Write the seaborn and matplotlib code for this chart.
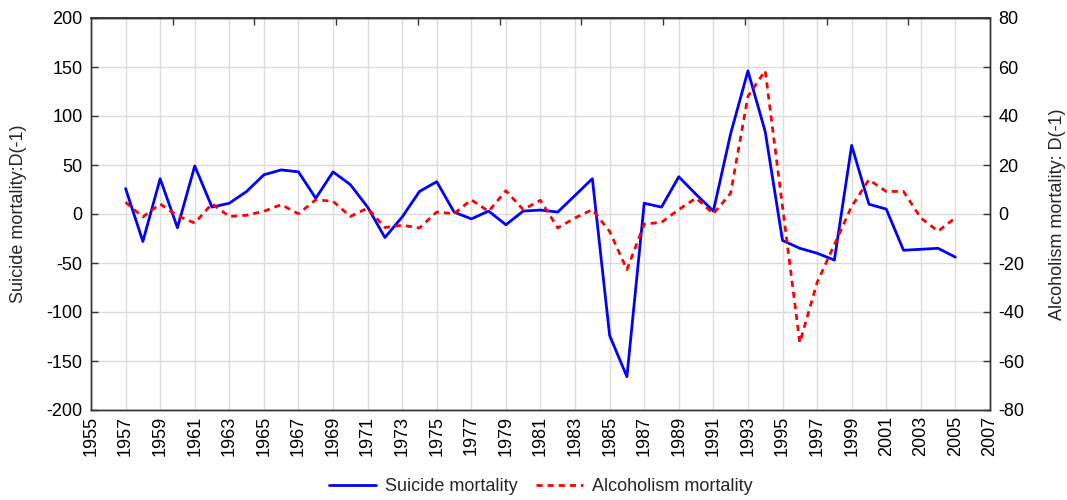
import numpy as np
import pandas as pd
import matplotlib
matplotlib.use("Agg")
import matplotlib.pyplot as plt
import seaborn as sns

years = list(range(1957, 2006))

suicide = [26, -28, 36, -14, 49, 7, 11, 23, 40, 45,
           43, 16, 43, 30, 7, -24, -3, 23, 33, 2,
           -5, 3, -11, 3, 4, 2, 19, 36, -124, -166,
           11, 7, 38, 20, 3, 82, 146, 84, -27, -35,
           -40, -47, 70, 10, 5, -37, -36, -35, -44]

alcohol = [4.8, -1.2, 4.1, -0.7, -3.7, 4.2, -1.0, -0.5, 1.1, 3.8,
           0.1, 5.8, 5.2, -1.0, 2.4, -5.5, -4.6, -5.7, 0.8, 0.1,
           5.8, 1.1, 9.5, 1.8, 5.6, -5.7, -1.6, 1.8, -7.1, -22.7,
           -4.1, -3.4, 1.8, 6.5, 0.1, 8.5, 48.0, 58.5, 3.0, -52.5,
           -28.0, -12.5, 3.1, 14.0, 9.2, 9.2, -1.6, -7.0, -1.6]

df = pd.DataFrame({"Year": years, "Suicide": suicide, "Alcohol": alcohol})

sns.set_theme(style="white")
plt.rcParams["font.family"] = ["Liberation Sans", "DejaVu Sans"]
plt.rcParams["axes.unicode_minus"] = False
FS = 13

fig = plt.figure(figsize=(10.67, 5.0), dpi=100)
ax = fig.add_axes([0.0853, 0.18, 0.8425, 0.784])
ax2 = ax.twinx()

sns.lineplot(data=df, x="Year", y="Suicide", ax=ax, color="#0000ff",
             linewidth=2.0, label="Suicide mortality", legend=False)
sns.lineplot(data=df, x="Year", y="Alcohol", ax=ax2, color="#ff0000",
             linewidth=2.0, linestyle=(0, (2.2, 1.8)),
             label="Alcoholism mortality", legend=False)

# axes limits / ticks
ax.set_xlim(1955, 2007)
ax.set_xticks(range(1955, 2008, 2))
ax.set_xticklabels([str(y) for y in range(1955, 2008, 2)], rotation=90)
ax.set_ylim(-200, 200)
ax.set_yticks(range(-200, 201, 50))
ax2.set_ylim(-80, 80)
ax2.set_yticks(range(-80, 81, 20))

ax.grid(True, color="#dcdcdc", linewidth=1.0)
ax.set_axisbelow(True)
ax.set_xlabel("")
ax.set_ylabel("Suicide mortality:D(-1)", fontsize=FS, labelpad=14)
ax2.set_ylabel("Alcoholism mortality: D(-1)", fontsize=FS, labelpad=18)

for a in (ax, ax2):
    for s in a.spines.values():
        s.set_color("#333333")
        s.set_linewidth(1.0)
    a.tick_params(direction="in", length=5, width=1, color="#333333",
                  labelsize=FS, labelcolor="black")
ax.tick_params(axis="y", pad=6)
ax.tick_params(axis="x", pad=4)
ax2.tick_params(axis="y", pad=6)

# odd ticks along top spine
top = ax.secondary_xaxis("top")
top.set_xticks(np.linspace(1955, 2007, 12)[1:-1])
top.set_xticklabels([])
top.tick_params(direction="in", length=5, width=1, color="#333333")

h1, l1 = ax.get_legend_handles_labels()
h2, l2 = ax2.get_legend_handles_labels()
fig.legend(h1 + h2, l1 + l2, loc="center", bbox_to_anchor=(0.507, 0.027),
           ncol=2, frameon=False, fontsize=FS, handlelength=2.6,
           columnspacing=1.0, handletextpad=0.5)

fig.savefig("out.png", dpi=100)
